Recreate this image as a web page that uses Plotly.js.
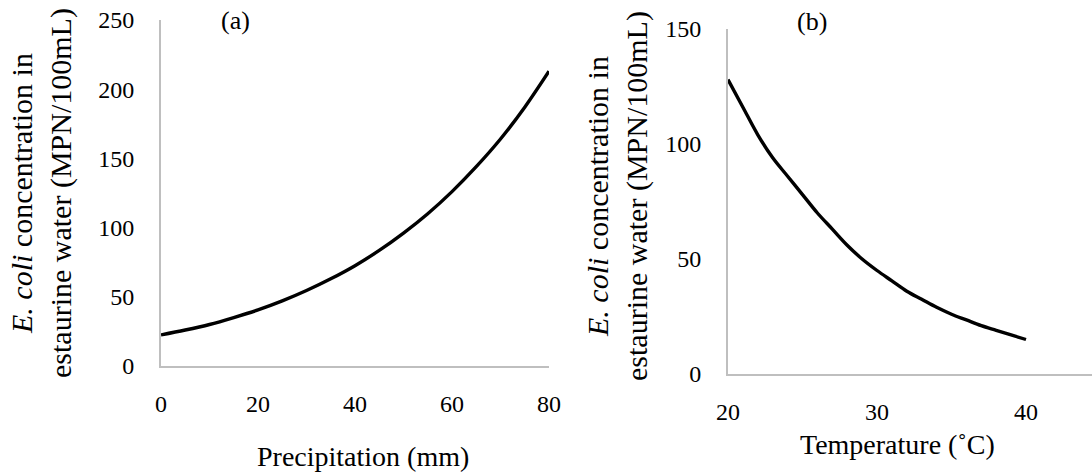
<!DOCTYPE html>
<html>
<head>
<meta charset="utf-8">
<script src="https://cdn.plot.ly/plotly-3.0.1.min.js"></script>
<style>
  html, body { margin: 0; padding: 0; background: #ffffff; }
  #chart { width: 1092px; height: 473px; }
</style>
</head>
<body>
<div id="chart"></div>
<script>
// Panel (a): precipitation vs E. coli
const precipitation = [0, 5, 10, 15, 20, 25, 30, 35, 40, 45, 50, 55, 60, 65, 70, 75, 80];
const ecoliPrecip = [22.5, 26, 30, 35, 40.5, 47, 54.5, 63, 72.5, 83.5, 96, 110, 126, 144, 164, 187, 213];

// Panel (b): temperature vs E. coli
const temperature = [20, 21, 22, 23, 24, 25, 26, 27, 28, 29, 30, 31, 32, 33, 34, 35, 36, 37, 38, 39, 40];
const ecoliTemp = [128, 116, 104, 94, 86, 78, 70, 63, 56, 50, 45, 40.5, 36, 32.5, 29, 26, 23.5, 21, 19, 17, 15];

const xTicksA = [0, 20, 40, 60, 80];
const yTicksA = [0, 50, 100, 150, 200, 250];
const xTicksB = [20, 30, 40];
const yTicksB = [0, 50, 100, 150];

const yTitleText = '<i>E. coli</i> concentration in<br>estaurine water (MPN/100mL)';
const xTitleA = 'Precipitation (mm)';
const xTitleB = 'Temperature (˚C)';
const labelA = '(a)';
const labelB = '(b)';

const W = 1092, H = 473;
const FONT = 'Liberation Serif, Times New Roman, serif';
const px = v => v / W;
const py = v => (H - v) / H;

const traces = [
  {x: precipitation, y: ecoliPrecip, xaxis: 'x', yaxis: 'y', type: 'scatter', mode: 'lines',
   line: {color: '#000000', width: 3.4, shape: 'spline', smoothing: 1}, hoverinfo: 'x+y'},
  {x: temperature, y: ecoliTemp, xaxis: 'x2', yaxis: 'y2', type: 'scatter', mode: 'lines',
   line: {color: '#000000', width: 3.4, shape: 'spline', smoothing: 1}, hoverinfo: 'x+y'}
];

const axisCommon = {
  showgrid: false, zeroline: false, showline: true, linecolor: '#bfbfbf', linewidth: 2,
  ticks: '', mirror: false, fixedrange: true,
  tickfont: {family: FONT, size: 24, color: '#000000'}
};

const layout = {
  width: W, height: H,
  margin: {l: 0, r: 0, t: 0, b: 0},
  paper_bgcolor: '#ffffff', plot_bgcolor: '#ffffff',
  showlegend: false,
  font: {family: FONT, color: '#000000'},
  xaxis: Object.assign({}, axisCommon, {
    domain: [px(161), px(549)], range: [0, 80], tickvals: xTicksA,
    anchor: 'y', ticklabelstandoff: 15
  }),
  yaxis: Object.assign({}, axisCommon, {
    domain: [py(366), py(20)], range: [0, 250], tickvals: yTicksA,
    anchor: 'x', ticklabelstandoff: 20
  }),
  xaxis2: Object.assign({}, axisCommon, {
    domain: [px(728), 1], range: [20, 20 + (W - 728) / 14.9], tickvals: xTicksB,
    anchor: 'y2', ticklabelstandoff: 15
  }),
  yaxis2: Object.assign({}, axisCommon, {
    domain: [py(374), py(29)], range: [0, 150], tickvals: yTicksB,
    anchor: 'x2', ticklabelstandoff: 20
  }),
  annotations: [
    {text: yTitleText, xref: 'paper', yref: 'paper', x: px(42), y: py(193),
     xanchor: 'center', yanchor: 'middle', textangle: -90, showarrow: false,
     font: {family: FONT, size: 30, color: '#000000'}},
    {text: yTitleText, xref: 'paper', yref: 'paper', x: px(617), y: py(196),
     xanchor: 'center', yanchor: 'middle', textangle: -90, showarrow: false,
     font: {family: FONT, size: 30, color: '#000000'}},
    {text: xTitleA, xref: 'paper', yref: 'paper', x: px(363), y: py(456),
     xanchor: 'center', yanchor: 'middle', showarrow: false,
     font: {family: FONT, size: 28, color: '#000000'}},
    {text: xTitleB, xref: 'paper', yref: 'paper', x: px(897), y: py(444),
     xanchor: 'center', yanchor: 'middle', showarrow: false,
     font: {family: FONT, size: 28, color: '#000000'}},
    {text: labelA, xref: 'paper', yref: 'paper', x: px(235), y: py(21),
     xanchor: 'center', yanchor: 'middle', showarrow: false,
     font: {family: FONT, size: 26, color: '#000000'}},
    {text: labelB, xref: 'paper', yref: 'paper', x: px(812), y: py(22),
     xanchor: 'center', yanchor: 'middle', showarrow: false,
     font: {family: FONT, size: 26, color: '#000000'}}
  ]
};

Plotly.newPlot('chart', traces, layout, {displayModeBar: false, staticPlot: true});
</script>
</body>
</html>
